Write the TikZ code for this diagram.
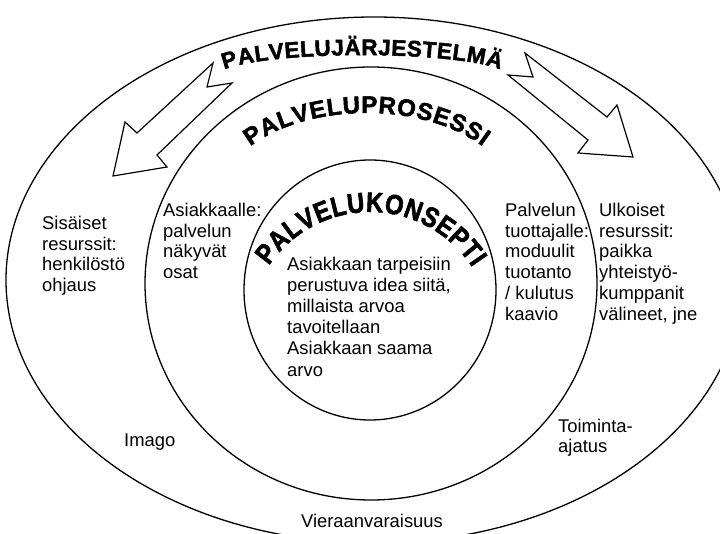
\documentclass[tikz,border=0pt]{standalone}
\usepackage{fontspec}
\setmainfont{Liberation Sans}
\newfontfamily\ArcFamilyN[FakeBold=2]{Liberation Sans Bold}
\newfontfamily\ArcFamilyS[FakeBold=2,FakeStretch=0.85]{Liberation Sans Bold}
\usetikzlibrary{decorations.text}
\newcommand\ArcTxtA{\ArcFamilyN\fontsize{22.5}{22.5}\selectfont}
\newcommand\ArcTxtB{\ArcFamilyN\fontsize{24}{24}\selectfont}
\newcommand\ArcTxtC{\ArcFamilyS\fontsize{28}{28}\selectfont}
\begin{document}
\begin{tikzpicture}[x=1pt,y=1pt,
  ring/.style={draw=black, line width=1.3pt},
  blockarrow/.style={draw=black, fill=white, line width=1.2pt, line join=miter},
  lbl/.style={inner sep=0pt, align=left, font=\fontsize{18.4}{20.7}\selectfont},
]
\useasboundingbox (0,0) rectangle (720,533);
\clip (0,0) rectangle (720,533);
\fill[white] (0,0) rectangle (720,533);
% rings
\draw[ring] (374,253) ellipse [x radius=368, y radius=263];
\draw[ring] (371,249.5) ellipse [x radius=226, y radius=216.5];
\draw[ring] (370,243) ellipse [x radius=126, y radius=130];
% block arrows
\draw[blockarrow] (213,470) -- (137,400) -- (125,411) -- (113,357) -- (167,366) -- (157,378) -- (232,450) -- (207,446) -- cycle;
\draw[blockarrow] (525,480) -- (607,416) -- (617,428) -- (633,376) -- (578,380) -- (588,393) -- (508,458) -- (533,456) -- cycle;
% arched titles
\path[decorate, decoration={text along path, text align=fit to path, text={|\ArcTxtA|PALVELUJÄRJESTELMÄ}}]
  (224.2,463.4) arc[start angle=161, end angle=19, x radius=146, y radius=21.5];
\path[decorate, decoration={text along path, text align=fit to path, text={|\ArcTxtB|PALVELUPROSESSI}}]
  (250.3,386.6) arc[start angle=142, end angle=38, x radius=147.5, y radius=87];
\path[decorate, decoration={text along path, text align=fit to path, text={|\ArcTxtC|PALVELUKONSEPTI}}]
  (268.9,267.2) arc[start angle=146, end angle=33, radius=122];
% labels
\node[lbl, anchor=north west] (sis) at (42,317) {Sisäiset\\resurssit:\\henkilöstö\\ohjaus};
\node[lbl, anchor=north west] (asi) at (163,330) {Asiakkaalle:\\palvelun\\näkyvät\\osat};
\node[lbl, anchor=north west] (tuo) at (505,330) {Palvelun\\tuottajalle:\\moduulit\\tuotanto\\/ kulutus\\kaavio};
\node[lbl, anchor=north west] (ulk) at (599,330) {Ulkoiset\\resurssit:\\paikka\\yhteistyö-\\kumppanit\\välineet, jne};
\node[lbl, anchor=north west, font=\fontsize{18.4}{21.2}\selectfont] (ide) at (287,276.5) {Asiakkaan tarpeisiin\\perustuva idea siitä,\\millaista arvoa\\tavoitellaan\\Asiakkaan saama\\arvo};
\node[lbl, anchor=base west] (ima) at (124,87) {Imago};
\node[lbl, anchor=north west] (toi) at (558,114.5) {Toiminta-\\ajatus};
\node[lbl, anchor=base] (vie) at (372,6) {Vieraanvaraisuus};
\end{tikzpicture}
\end{document}
